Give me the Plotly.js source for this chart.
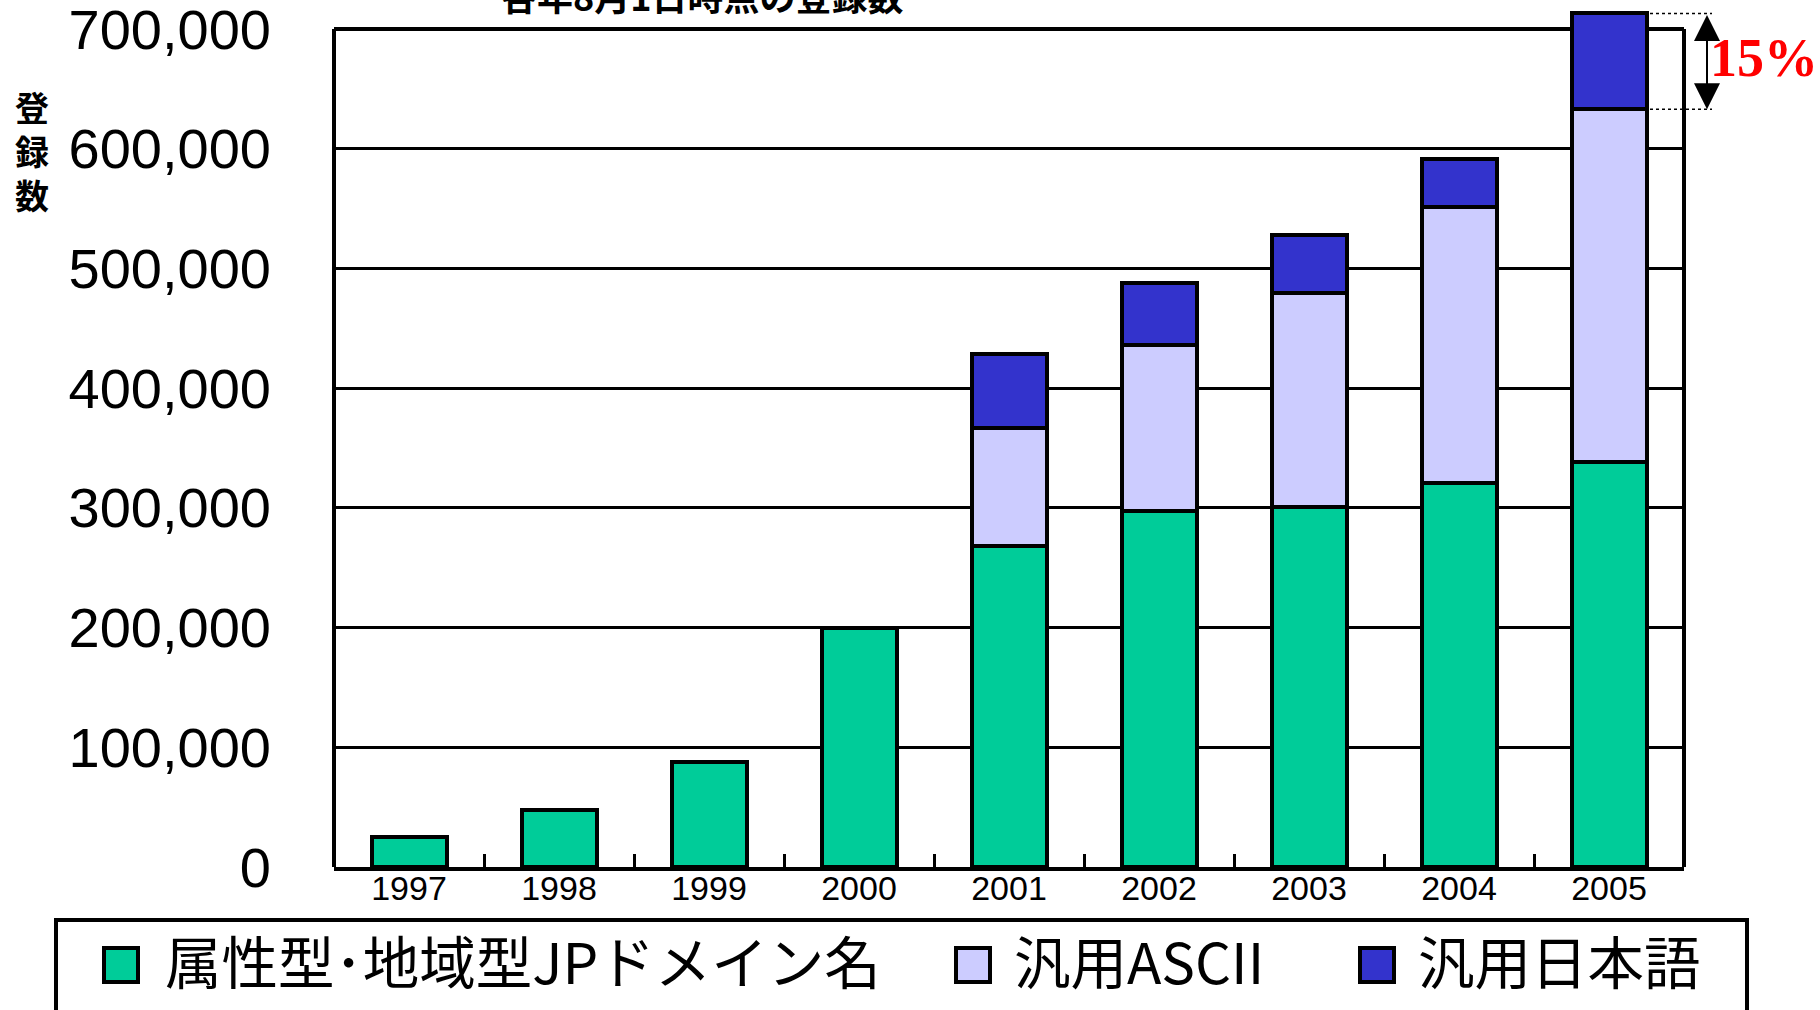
<!DOCTYPE html>
<html><head><meta charset="utf-8">
<script src="https://cdn.plot.ly/plotly-3.0.1.min.js"></script>
<style>html,body{margin:0;padding:0;background:#fff;} #chart{width:1820px;height:1010px;}</style>
</head><body><div id="chart"></div>
<script>
// ---- data ----
const years = ['1997','1998','1999','2000','2001','2002','2003','2004','2005'];
const attrRegional = [25000, 48000, 88000, 200000, 268000, 297000, 301000, 321000, 338000];
const genericAscii = [null, null, null, null, 98500, 139000, 178500, 230000, 295000];
const genericJapanese = [null, null, null, null, 62000, 52000, 48500, 40000, 80000];
const seriesNames = ['属性型･地域型JPドメイン名', '汎用ASCII', '汎用日本語'];
const seriesColors = ['#00CC99', '#CCCCFF', '#3333CC'];
const yTicks = [0, 100000, 200000, 300000, 400000, 500000, 600000, 700000];
const titleText = '各年8月1日時点の登録数';
const yAxisLabel = '登<br>録<br>数';
const shareLabel = '15%';

// ---- layout helpers (pixel -> paper) ----
const W = 1820, H = 1010;
const frameTop = 700000;           // value where the drawn frame closes
const rangeTop = 720000;           // axis range (room for the 2005 bar overshoot)
const zeroPx = 867, framePx = 29;
const pxPerUnit = (zeroPx - framePx) / frameTop;
const M = {l: 334, r: 136, t: Math.round(zeroPx - rangeTop * pxPerUnit), b: H - zeroPx};
const PW = W - M.l - M.r, PH = H - M.t - M.b;
const px = v => (v - M.l) / PW;
const py = v => (H - M.b - v) / PH;

const lineStyle = {color: '#000', width: 4};
const series = [attrRegional, genericAscii, genericJapanese];
const traces = series.map((vals, i) => ({
  type: 'bar', x: years, y: vals, name: seriesNames[i],
  marker: {color: seriesColors[i], line: lineStyle},
  showlegend: false, hoverinfo: 'x+y+name'
}));

const last = years.length - 1;
const topTotal = attrRegional[last] + genericAscii[last] + genericJapanese[last];
const lowerTotal = attrRegional[last] + genericAscii[last];

const cjk = "'Noto Sans CJK JP', 'Noto Sans', sans-serif";
const annotations = [
  {xref: 'paper', yref: 'paper', x: px(702), y: py(-5), text: titleText, showarrow: false,
   font: {family: cjk, size: 36, color: '#000', weight: 'bold'}, xanchor: 'center', yanchor: 'middle'},
  {xref: 'paper', yref: 'paper', x: px(32), y: py(151), text: yAxisLabel, showarrow: false,
   font: {family: cjk, size: 34, color: '#000', weight: 'bold'}, xanchor: 'center', yanchor: 'middle'},
  {xref: 'paper', yref: 'paper', x: px(1764), y: py(58), text: shareLabel, showarrow: false,
   font: {family: "'Liberation Serif', 'DejaVu Serif', serif", size: 54, color: '#FF0000', weight: 'bold'},
   xanchor: 'center', yanchor: 'middle'},
  {xref: 'paper', yref: 'y', x: px(1707), y: lowerTotal, axref: 'pixel', ayref: 'y', ax: 0, ay: topTotal,
   text: '', showarrow: true, arrowside: 'end+start', arrowhead: 2, startarrowhead: 2,
   arrowsize: 2.6, startarrowsize: 2.6, arrowwidth: 2, arrowcolor: '#000', standoff: 0, startstandoff: 0}
];

const shapes = [
  // plot frame: left, right and top edges closing at 700,000
  {type: 'line', xref: 'paper', yref: 'y', x0: 0, x1: 0, y0: 0, y1: frameTop, line: {color: '#000', width: 4}},
  {type: 'line', xref: 'paper', yref: 'y', x0: 1, x1: 1, y0: 0, y1: frameTop, line: {color: '#000', width: 4}},
  {type: 'line', xref: 'paper', yref: 'y', x0: 0, x1: 1, y0: frameTop, y1: frameTop, layer: 'below',
   line: {color: '#000', width: 4}},
  // legend box
  {type: 'rect', xref: 'paper', yref: 'paper', x0: px(56), x1: px(1747), y0: py(920), y1: py(1040),
   line: {color: '#000', width: 4}, fillcolor: 'rgba(0,0,0,0)'},
  // dotted guides for the share arrow
  {type: 'line', xref: 'paper', yref: 'y', x0: px(1650), x1: px(1712), y0: topTotal, y1: topTotal,
   line: {color: '#000', width: 1.5, dash: 'dot'}},
  {type: 'line', xref: 'paper', yref: 'y', x0: px(1650), x1: px(1712), y0: lowerTotal, y1: lowerTotal,
   line: {color: '#000', width: 1.5, dash: 'dot'}}
];

const swatchX = [104, 956, 1360];
const textX = [163, 1012, 1416];
seriesNames.forEach((n, i) => {
  shapes.push({type: 'rect', xref: 'paper', yref: 'paper', x0: px(swatchX[i]), x1: px(swatchX[i] + 34),
    y0: py(948), y1: py(982), fillcolor: seriesColors[i], line: {color: '#000', width: 4}});
  annotations.push({xref: 'paper', yref: 'paper', x: px(textX[i]), y: py(959), text: n, showarrow: false,
    xanchor: 'left', yanchor: 'middle', font: {family: cjk, size: 56.5, color: '#000'}});
});

const layout = {
  width: W, height: H, margin: M,
  paper_bgcolor: '#fff', plot_bgcolor: '#fff',
  barmode: 'stack', bargap: 0.5, showlegend: false,
  xaxis: {
    type: 'category', range: [-0.5, 8.5], showline: true, linecolor: '#000', linewidth: 4, mirror: false,
    ticks: 'inside', tickson: 'boundaries', ticklen: 13, tickwidth: 3, tickcolor: '#000',
    ticklabelstandoff: -12,
    tickfont: {family: "'Liberation Sans Narrow', 'Arial Narrow', 'Liberation Sans', Arial, sans-serif", size: 34, color: '#000'},
    showgrid: false, zeroline: false, fixedrange: true
  },
  yaxis: {
    range: [0, rangeTop], tickvals: yTicks, tickformat: ',d',
    showgrid: true, gridcolor: '#000', gridwidth: 3,
    showline: false, ticks: '', ticklabelstandoff: 62, ticklabeloverflow: 'allow',
    tickfont: {family: "'Liberation Sans', Arial, sans-serif", size: 56, color: '#000'},
    zeroline: false, fixedrange: true
  },
  annotations: annotations,
  shapes: shapes
};

Plotly.newPlot('chart', traces, layout, {displayModeBar: false, staticPlot: true});
</script>
</body></html>
